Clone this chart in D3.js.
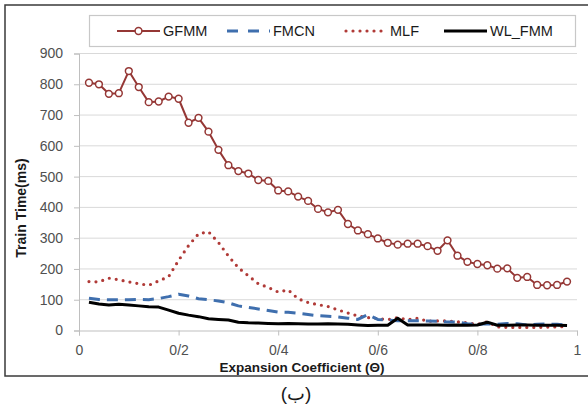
<!DOCTYPE html>
<html>
<head>
<meta charset="utf-8">
<script src="https://cdn.jsdelivr.net/npm/d3@7"></script>
<style>
  html, body { margin: 0; padding: 0; background: #fff; }
  svg { display: block; }
  text { font-family: "Liberation Sans", Arial, sans-serif; }
</style>
</head>
<body>
<svg id="chart" width="588" height="412"></svg>
<script>
// Expansion coefficient (Θ) sampled every 0.02
const theta = [0.02,0.04,0.06,0.08,0.10,0.12,0.14,0.16,0.18,0.20,
               0.22,0.24,0.26,0.28,0.30,0.32,0.34,0.36,0.38,0.40,
               0.42,0.44,0.46,0.48,0.50,0.52,0.54,0.56,0.58,0.60,
               0.62,0.64,0.66,0.68,0.70,0.72,0.74,0.76,0.78,0.80,
               0.82,0.84,0.86,0.88,0.90,0.92,0.94,0.96,0.98];

// Train time (ms) per method
const gfmm = [805,800,769,771,843,791,742,744,760,753,
              675,691,646,587,537,518,510,489,486,455,
              452,435,421,395,384,392,346,325,313,299,
              285,279,282,282,274,259,293,243,223,216,
              212,201,202,171,174,148,147,148,159];
const fmcn = [105,101,100,100,100,101,100,104,110,118,
              112,103,100,96,90,80,75,70,65,60,
              59,56,52,48,46,44,40,36,52,36,
              34,32,32,32,31,30,28,27,22,20,
              22,20,23,22,18,20,21,20,18];
const mlf  = [159,158,170,165,158,152,147,161,175,228,
              276,314,321,286,242,204,178,152,140,125,
              132,103,91,84,78,67,57,47,42,39,
              35,42,35,40,30,31,31,28,25,20,
              28,12,10,10,10,10,11,12,13];
const wlfmm = [92,86,83,85,83,80,77,76,66,56,
               50,45,38,36,34,27,25,24,23,22,
               23,22,21,21,22,21,20,18,16,17,
               17,40,18,18,18,18,17,18,17,18,
               27,17,17,18,18,17,17,17,16];

const yTicks = [0,100,200,300,400,500,600,700,800,900];
const xTicks = [0,0.2,0.4,0.6,0.8,1];
const xTickLabels = ["0","0/2","0/4","0/6","0/8","1"];
const seriesNames = ["GFMM","FMCN","MLF","WL_FMM"];

const svg = d3.select("#chart");

// outer frame
svg.append("rect")
  .attr("x", 5).attr("y", 5).attr("width", 590).attr("height", 371)
  .attr("fill", "none").attr("stroke", "#3a3a3a").attr("stroke-width", 1.5);

const x = d3.scaleLinear().domain([0, 1]).range([79, 577]);
const y = d3.scaleLinear().domain([0, 900]).range([330.5, 53.5]);

// horizontal gridlines
svg.append("g").selectAll("line")
  .data(yTicks.filter(d => d > 0))
  .join("line")
  .attr("x1", x(0)).attr("x2", x(1))
  .attr("y1", d => y(d)).attr("y2", d => y(d))
  .attr("stroke", "#d9d9d9").attr("stroke-width", 1);

// y axis
const yAxis = svg.append("g")
  .attr("transform", `translate(${x(0)},0)`)
  .call(d3.axisLeft(y).tickValues(yTicks).tickSize(5).tickPadding(11));
yAxis.select(".domain").attr("stroke", "#bfbfbf");
yAxis.selectAll(".tick line").attr("stroke", "#bfbfbf");
yAxis.selectAll(".tick text")
  .attr("fill", "#505050")
  .style("font-size", "14px")
  .style("font-family", "'Liberation Sans', Arial, sans-serif");

// x axis
const xAxis = svg.append("g")
  .attr("transform", `translate(0,${y(0)})`)
  .call(d3.axisBottom(x).tickValues(xTicks)
    .tickFormat((d, i) => xTickLabels[i]).tickSize(5).tickPadding(10));
xAxis.select(".domain").attr("stroke", "#bfbfbf");
xAxis.selectAll(".tick line").attr("stroke", "#bfbfbf");
xAxis.selectAll(".tick text")
  .attr("fill", "#505050")
  .style("font-size", "14px")
  .style("font-family", "'Liberation Sans', Arial, sans-serif");

// axis titles
svg.append("text")
  .attr("x", 302).attr("y", 372)
  .attr("text-anchor", "middle")
  .attr("font-weight", "bold").attr("font-size", 13.5)
  .attr("fill", "#1a1a1a")
  .text("Expansion Coefficient (Θ)");

svg.append("text")
  .attr("transform", "translate(26,208) rotate(-90)")
  .attr("text-anchor", "middle")
  .attr("font-weight", "bold").attr("font-size", 14)
  .attr("fill", "#1a1a1a")
  .text("Train Time(ms)");

const pts = vals => theta.map((t, i) => [t, vals[i]]);
const line = d3.line().x(d => x(d[0])).y(d => y(d[1]));

const styles = {
  GFMM:   { color: "#953735", width: 2,   dash: null,  cap: "butt" },
  FMCN:   { color: "#3f6fae", width: 3,   dash: "11,7", cap: "butt" },
  MLF:    { color: "#b03a37", width: 3.2, dash: "0,7", cap: "round" },
  WL_FMM: { color: "#000000", width: 3,   dash: null,  cap: "butt" }
};

function drawSeries(vals, s) {
  svg.append("path")
    .datum(pts(vals))
    .attr("d", line)
    .attr("fill", "none")
    .attr("stroke", s.color)
    .attr("stroke-width", s.width)
    .attr("stroke-linecap", s.cap)
    .attr("stroke-linejoin", "round")
    .attr("stroke-dasharray", s.dash);
}

drawSeries(mlf, styles.MLF);
drawSeries(fmcn, styles.FMCN);
drawSeries(wlfmm, styles.WL_FMM);
drawSeries(gfmm, styles.GFMM);

svg.append("g").selectAll("circle")
  .data(pts(gfmm))
  .join("circle")
  .attr("cx", d => x(d[0])).attr("cy", d => y(d[1]))
  .attr("r", 3.4)
  .attr("fill", "#fff")
  .attr("stroke", styles.GFMM.color)
  .attr("stroke-width", 1.5);

// legend
svg.append("rect")
  .attr("x", 89.5).attr("y", 15.5).attr("width", 486).attr("height", 31)
  .attr("fill", "#fff").attr("stroke", "#c8c8c8").attr("stroke-width", 1.2);

const legendX = [117, 227, 344, 444];
const legend = svg.append("g");
seriesNames.forEach((name, i) => {
  const s = styles[name];
  const x0 = legendX[i], x1 = x0 + 43, ly = 31;
  legend.append("line")
    .attr("x1", x0 + (name === "MLF" ? 2 : 0)).attr("x2", x1)
    .attr("y1", ly).attr("y2", ly)
    .attr("stroke", s.color).attr("stroke-width", s.width)
    .attr("stroke-linecap", s.cap)
    .attr("stroke-dasharray", name === "FMCN" ? "11,10" : s.dash);
  if (name === "GFMM") {
    legend.append("circle")
      .attr("cx", (x0 + x1) / 2).attr("cy", ly).attr("r", 3.4)
      .attr("fill", "#fff").attr("stroke", s.color).attr("stroke-width", 1.5);
  }
  legend.append("text")
    .attr("x", x1 + 3).attr("y", ly + 5)
    .attr("font-size", 14.5).attr("fill", "#1a1a1a")
    .text(name);
});

// caption
svg.append("text")
  .attr("x", 296).attr("y", 400)
  .attr("text-anchor", "middle")
  .attr("font-size", 19)
  .attr("font-family", "'DejaVu Sans', 'Noto Sans', sans-serif")
  .attr("fill", "#1a1a1a")
  .text("(ب)");
</script>
</body>
</html>
